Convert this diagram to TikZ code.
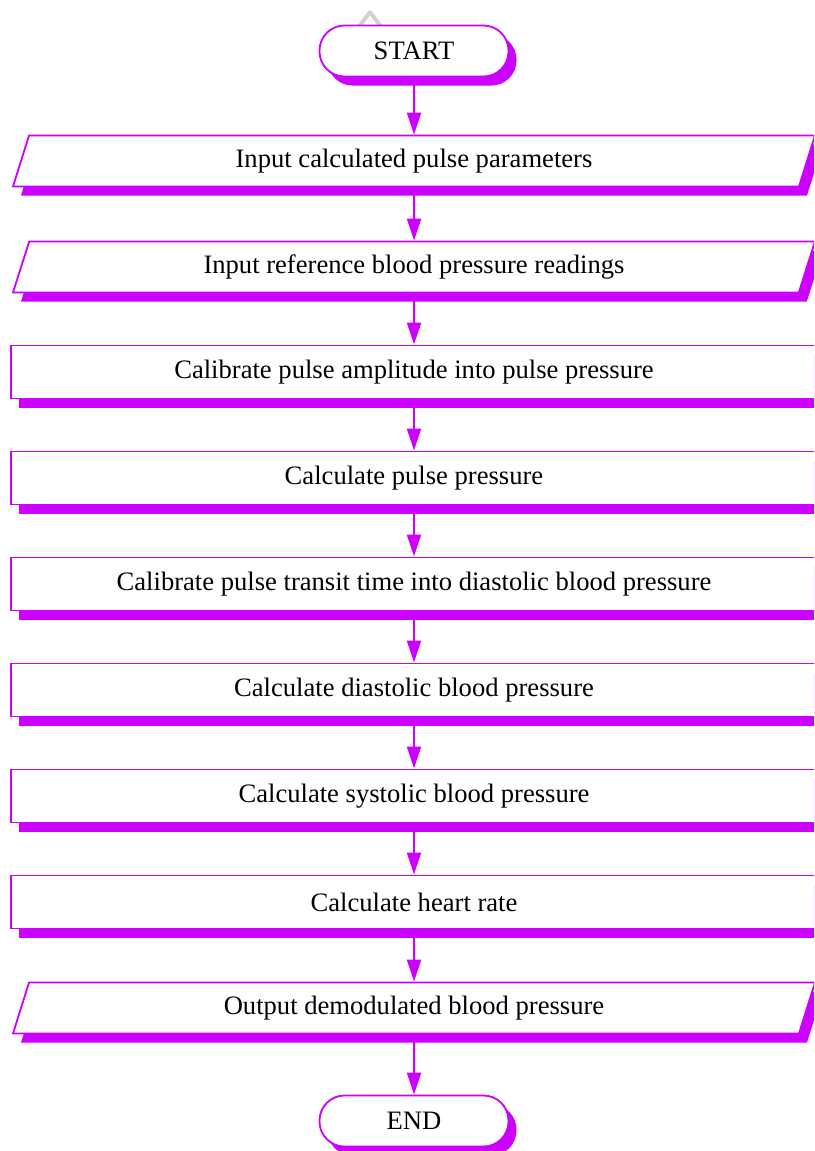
\documentclass[tikz,border=0pt]{standalone}
\usepackage{fontspec}
\setmainfont{Liberation Serif}
\usetikzlibrary{arrows.meta,shapes.geometric,shadows}
\definecolor{flow}{HTML}{CC00FF}
\definecolor{haze}{HTML}{D2D2D2}
\begin{document}
\begin{tikzpicture}[x=1pt,y=1pt,
  every node/.style={font=\fontsize{26.6}{30}\selectfont, text=black},
  boxbase/.style={draw=flow, line width=1.8pt, fill=white,
    general shadow={fill=flow, shadow xshift=8pt, shadow yshift=-9pt}},
  terminal/.style={boxbase, rectangle, rounded corners=25pt,
    minimum width=189pt, minimum height=51pt},
  process/.style={boxbase, rectangle, minimum width=806pt, minimum height=53pt},
  io/.style={boxbase, trapezium, trapezium left angle=62.5,
    trapezium right angle=117.5, trapezium stretches body,
    minimum width=802pt, minimum height=51pt},
  flowarrow/.style={draw=flow, line width=2pt,
    -{Triangle[length=22pt,width=14pt,fill=flow]}}]
\useasboundingbox (0,0) rectangle (814,-1151);
\clip (0,0) rectangle (814,-1151);

% faint chevron peeking out behind the start terminal
\draw[haze, line width=4pt, line join=round] (358,-28) -- (370,-12) -- (382,-28);

\node[terminal] (start) at (414,-51)   {START};
\node[io]       (in1)   at (414,-161)  {Input calculated pulse parameters};
\node[io]       (in2)   at (414,-267)  {Input reference blood pressure readings};
\node[process]  (p1)    at (414,-372)  {Calibrate pulse amplitude into pulse pressure};
\node[process]  (p2)    at (414,-478)  {Calculate pulse pressure};
\node[process]  (p3)    at (414,-584)  {Calibrate pulse transit time into diastolic blood pressure};
\node[process]  (p4)    at (414,-690)  {Calculate diastolic blood pressure};
\node[process]  (p5)    at (414,-796)  {Calculate systolic blood pressure};
\node[process]  (p6)    at (414,-902)  {Calculate heart rate};
\node[io]       (out)   at (414,-1008) {Output demodulated blood pressure};
\node[terminal] (end)   at (414,-1121) {END};

\foreach \a/\b in {start/in1, in1/in2, in2/p1, p1/p2, p2/p3, p3/p4, p4/p5, p5/p6, p6/out, out/end}
  \draw[flowarrow] (\a.south) -- (\b.north);
\end{tikzpicture}
\end{document}
